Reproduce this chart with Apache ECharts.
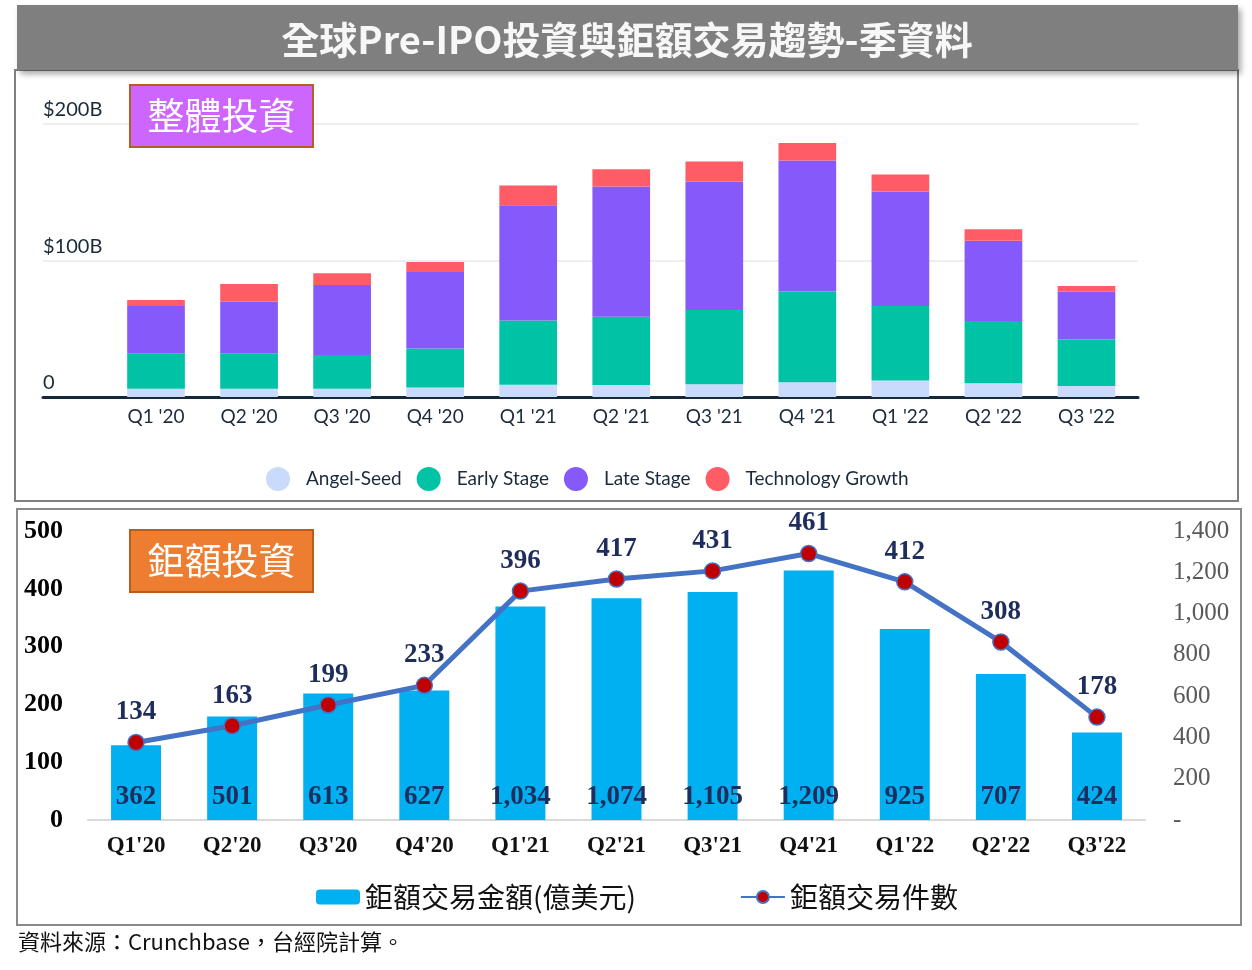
<!DOCTYPE html>
<html>
<head>
<meta charset="utf-8">
<script src="https://cdn.jsdelivr.net/npm/echarts@6/dist/echarts.min.js"></script>
<style>
html,body{margin:0;padding:0;background:#fff;}
#main{width:1252px;height:970px;}
</style>
</head>
<body>
<div id="main"></div>
<script>
// ---- Top panel: overall Pre-IPO investment (US$ B) ----
const quarters = ["Q1 '20","Q2 '20","Q3 '20","Q4 '20","Q1 '21","Q2 '21","Q3 '21","Q4 '21","Q1 '22","Q2 '22","Q3 '22"];
const angelSeed  = [6, 6, 6, 7, 9, 8.8, 9.3, 10.8, 12, 10, 8];
const earlyStage = [26, 26, 24.7, 28.6, 47, 50, 54.5, 66.4, 54.7, 45.7, 34.2];
const lateStage  = [34.7, 38, 51.3, 55.9, 84.5, 95.5, 94, 96, 83.8, 58.7, 34.9];
const techGrowth = [4.4, 12.7, 8.6, 7.4, 14.5, 12.5, 14.7, 12.8, 12.5, 8.5, 4.2];
const topTicks = ["0", "$100B", "$200B"];

// ---- Bottom panel: mega deals ----
const quartersShort = ["Q1'20","Q2'20","Q3'20","Q4'20","Q1'21","Q2'21","Q3'21","Q4'21","Q1'22","Q2'22","Q3'22"];
const megaAmount = [362, 501, 613, 627, 1034, 1074, 1105, 1209, 925, 707, 424];   // 億美元
const megaCount  = [134, 163, 199, 233, 396, 417, 431, 461, 412, 308, 178];        // 件數

const fmt = v => Number(v).toLocaleString('en-US');
const sansTop = 'Lato, "Noto Sans", sans-serif';
const serif = '"Liberation Serif", "DejaVu Serif", serif';
const cjk = '"Noto Sans CJK TC", "Noto Sans", sans-serif';
const navy = '#1f2d5c';

const chart = echarts.init(document.getElementById('main'));
chart.setOption({
  backgroundColor: '#ffffff',
  animation: false,
  graphic: [
    // panel frames
    { type: 'rect', z: 0, shape: { x: 15, y: 70, width: 1223, height: 431 },
      style: { fill: 'none', stroke: '#808080', lineWidth: 2 } },
    { type: 'rect', z: 0, shape: { x: 17, y: 509, width: 1224, height: 416 },
      style: { fill: 'none', stroke: '#8a8a8a', lineWidth: 2 } },
    // title bar
    { type: 'rect', z: 10, shape: { x: 17, y: 5, width: 1221, height: 65 },
      style: { fill: '#7f7f7f', shadowBlur: 6, shadowOffsetX: 3, shadowOffsetY: 4, shadowColor: 'rgba(0,0,0,0.35)' } },
    { type: 'text', z: 11, x: 627, y: 40,
      style: { text: '全球Pre-IPO投資與鉅額交易趨勢-季資料', fill: '#f7f7f7', font: 'bold 38px ' + cjk,
               textAlign: 'center', textVerticalAlign: 'middle' } },
    // label boxes
    { type: 'rect', z: 10, shape: { x: 130, y: 85, width: 183, height: 62 },
      style: { fill: '#cc66ff', stroke: '#b45f1e', lineWidth: 2 } },
    { type: 'text', z: 11, x: 221.5, y: 116,
      style: { text: '整體投資', fill: '#ffffff', font: '37px ' + cjk, textAlign: 'center', textVerticalAlign: 'middle' } },
    { type: 'rect', z: 10, shape: { x: 130, y: 530, width: 183, height: 62 },
      style: { fill: '#ed7d31', stroke: '#b85e1c', lineWidth: 2 } },
    { type: 'text', z: 11, x: 221.5, y: 561,
      style: { text: '鉅額投資', fill: '#ffffff', font: '37px ' + cjk, textAlign: 'center', textVerticalAlign: 'middle' } },
    // source
    { type: 'text', z: 11, x: 18, y: 942,
      style: { text: '資料來源：Crunchbase，台經院計算。', fill: '#111111', font: '22px ' + cjk, textVerticalAlign: 'middle' } }
  ],
  legend: [
    { data: ['Angel-Seed', 'Early Stage', 'Late Stage', 'Technology Growth'],
      left: 261, top: 462, icon: 'circle', itemWidth: 24, itemHeight: 24, itemGap: 15,
      textStyle: { fontFamily: sansTop, fontSize: 19, color: '#1b2a3a', padding: [0, 0, 0, 11] } },
    { data: ['鉅額交易金額(億美元)', '鉅額交易件數'],
      left: 311, top: 878, itemWidth: 44, itemHeight: 15, itemGap: 104,
      textStyle: { fontFamily: cjk, fontSize: 28, color: '#111111' } }
  ],
  grid: [
    { left: 43, right: 114, top: 124, bottom: 573 },        // decoration frame (grid lines / axis)
    { left: 109.5, right: 119, top: 124, bottom: 573 },     // stacked bars
    { left: 88, right: 107, top: 531, bottom: 150 }         // mega deals
  ],
  xAxis: [
    { gridIndex: 0, type: 'value', min: 0, max: 1,
      axisLine: { show: true, lineStyle: { color: '#14283a', width: 3 } },
      axisTick: { show: false }, axisLabel: { show: false }, splitLine: { show: false } },
    { gridIndex: 1, type: 'category', data: quarters,
      axisLine: { show: false }, axisTick: { show: false },
      axisLabel: { color: '#1b2a3a', fontFamily: sansTop, fontSize: 19, margin: 10 } },
    { gridIndex: 2, type: 'category', data: quartersShort,
      axisLine: { show: true, lineStyle: { color: '#d9d9d9', width: 2 } }, axisTick: { show: false },
      axisLabel: { color: '#111111', fontFamily: serif, fontWeight: 'bold', fontSize: 23, margin: 15 } }
  ],
  yAxis: [
    { gridIndex: 0, type: 'value', min: 0, max: 200, interval: 100,
      axisLine: { show: false }, axisTick: { show: false },
      splitLine: { show: true, lineStyle: { color: '#e6e9ec', width: 1.5 } },
      axisLabel: { inside: true, margin: 0, align: 'left', verticalAlign: 'bottom', padding: [0, 0, 4, 0],
                   color: '#1b2a3a', fontFamily: sansTop, fontSize: 20,
                   formatter: v => topTicks[v / 100] } },
    { gridIndex: 1, type: 'value', min: 0, max: 200, show: false },
    { gridIndex: 2, type: 'value', min: 0, max: 500, interval: 100, position: 'left',
      axisLine: { show: false }, axisTick: { show: false }, splitLine: { show: false },
      axisLabel: { color: '#000000', fontFamily: serif, fontWeight: 'bold', fontSize: 26, margin: 25 } },
    { gridIndex: 2, type: 'value', min: 0, max: 1400, interval: 200, position: 'right',
      axisLine: { show: false }, axisTick: { show: false }, splitLine: { show: false },
      axisLabel: { color: '#595959', fontFamily: serif, fontSize: 25, margin: 28, align: 'left',
                   formatter: v => v === 0 ? '-' : fmt(v) } }
  ],
  series: [
    { name: 'Angel-Seed', type: 'bar', stack: 'all', xAxisIndex: 1, yAxisIndex: 1, barWidth: '62%',
      itemStyle: { color: '#c9dafc' }, data: angelSeed },
    { name: 'Early Stage', type: 'bar', stack: 'all', xAxisIndex: 1, yAxisIndex: 1,
      itemStyle: { color: '#00c2a5' }, data: earlyStage },
    { name: 'Late Stage', type: 'bar', stack: 'all', xAxisIndex: 1, yAxisIndex: 1,
      itemStyle: { color: '#8659fa' }, data: lateStage },
    { name: 'Technology Growth', type: 'bar', stack: 'all', xAxisIndex: 1, yAxisIndex: 1,
      itemStyle: { color: '#ff5c66' }, data: techGrowth },
    { name: '鉅額交易金額(億美元)', type: 'bar', xAxisIndex: 2, yAxisIndex: 3, barWidth: '52%',
      itemStyle: { color: '#00b0f0' }, data: megaAmount,
      label: { show: true, position: 'insideBottom', distance: 9, color: navy, fontFamily: serif,
               fontWeight: 'bold', fontSize: 27, formatter: p => fmt(p.value) } },
    { name: '鉅額交易件數', type: 'line', xAxisIndex: 2, yAxisIndex: 2, z: 5,
      lineStyle: { color: '#4472c4', width: 5 },
      symbol: 'circle', symbolSize: 16,
      itemStyle: { color: '#c00000', borderColor: '#4472c4', borderWidth: 1.5 },
      data: megaCount,
      label: { show: true, position: 'top', distance: 8, color: navy, fontFamily: serif,
               fontWeight: 'bold', fontSize: 27 } }
  ]
});
</script>
</body>
</html>
